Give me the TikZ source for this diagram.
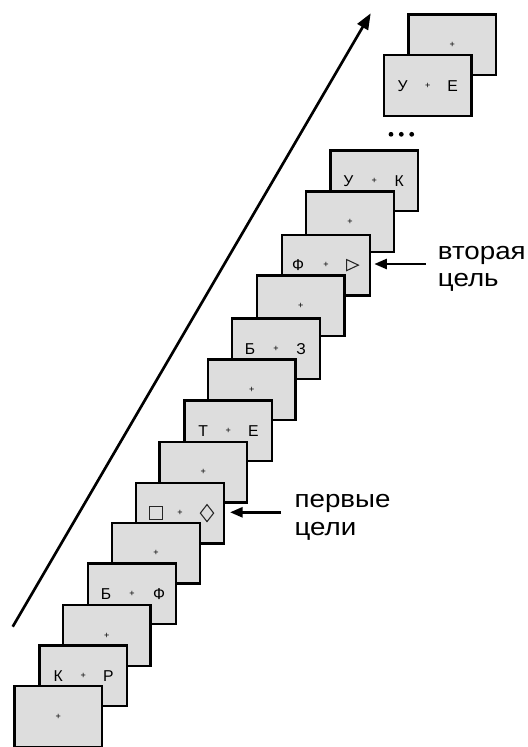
\documentclass[tikz,border=0pt]{standalone}
\usepackage{fontspec}
\setmainfont{Liberation Sans}
\newfontfamily\labfont[FakeStretch=1.13]{Liberation Sans}
\usetikzlibrary{arrows.meta,calc}
\definecolor{scrfill}{RGB}{221,221,221}
\tikzset{
  scr/.style={draw=black, fill=scrfill, line width=1.7pt, minimum width=65.8pt,
    minimum height=45.4pt, inner sep=0pt, outer sep=0pt},
  fix/.style={inner sep=0pt, font=\fontsize{6.8}{7}\selectfont},
  stim/.style={inner sep=0pt, anchor=base, font=\fontsize{11.8}{12}\selectfont},
  lab/.style={inner sep=0pt, anchor=base west, font=\labfont\fontsize{18.4}{21}\selectfont},
  arr/.style={line width=2pt, -{Triangle[length=9.5pt,width=7.5pt]}},
  mainarr/.style={line width=2pt, -{Triangle[length=12pt,width=9pt]}},
  tgt/.style={line width=0.8pt, draw=black!85}
}
\begin{document}
\begin{tikzpicture}[x=0.75pt,y=-0.75pt]
\useasboundingbox (0,0) rectangle (528,747);
\clip (0,0) rectangle (528,747);
% time arrow
\coordinate (a0) at (12.7,626.7);
\coordinate (a1) at (370.7,13.3);
\draw[mainarr] (a0) -- (a1);
% top screens
\node[scr] (u2) at (407.3+45,13.3+31.4) {};
\node[fix] (u2f) at (u2.center) {+};
\node[scr] (u1) at (382.7+45,54+31.4) {};
\node[fix] (u1f) at (u1.center) {+};
\node[stim] (u1a) at ($(u1.center)+(-25,5.8)$) {У};
\node[stim] (u1b) at ($(u1.center)+(25,5.8)$) {Е};
% dots
\fill (391,134.3) circle (1.8pt);
\fill (401.3,134.3) circle (1.8pt);
\fill (411.7,134.3) circle (1.8pt);
% main stack, drawn from top to bottom
\foreach \i/\l/\t in {13/329.3/149.3, 12/305/190.3, 11/281/233.7, 10/255.7/274.3,
  9/231/317.3, 8/206.7/358.3, 7/183.3/399.3, 6/158.3/440.7, 5/135/481.7,
  4/111/521.7, 3/87/562.3, 2/61.7/604, 1/38.3/644.3, 0/13.3/685} {
  \node[scr] (s\i) at (\l+45,\t+31.4) {};
  \node[fix] (f\i) at (s\i.center) {+};
  \ifnum\i=13
    \node[stim] (s\i a) at ($(s\i.center)+(-26,5.8)$) {У};
    \node[stim] (s\i b) at ($(s\i.center)+(25,5.8)$) {К};
  \fi
  \ifnum\i=11
    \node[stim] (s\i a) at ($(s\i.center)+(-28,5.8)$) {Ф};
    \draw[tgt] ($(s\i.center)+(26.5,0)$) ++(-5.8,-5.5) -- ++(11.7,5.5) -- ++(-11.7,5.5) -- cycle;
  \fi
  \ifnum\i=9
    \node[stim] (s\i a) at ($(s\i.center)+(-26,5.8)$) {Б};
    \node[stim] (s\i b) at ($(s\i.center)+(25,5.8)$) {З};
  \fi
  \ifnum\i=7
    \node[stim] (s\i a) at ($(s\i.center)+(-25,5.8)$) {Т};
    \node[stim] (s\i b) at ($(s\i.center)+(25,5.8)$) {Е};
  \fi
  \ifnum\i=5
    \draw[tgt] ($(s\i.center)+(-24.2,0)$) ++(-6.5,-6.25) rectangle ++(13,12.5);
    \draw[tgt] ($(s\i.center)+(27,0)$) ++(0,-8.5) -- ++(6.65,8.5) -- ++(-6.65,8.5) -- ++(-6.65,-8.5) -- cycle;
  \fi
  \ifnum\i=3
    \node[stim] (s\i a) at ($(s\i.center)+(-26,5.8)$) {Б};
    \node[stim] (s\i b) at ($(s\i.center)+(27,5.8)$) {Ф};
  \fi
  \ifnum\i=1
    \node[stim] (s\i a) at ($(s\i.center)+(-25,5.8)$) {К};
    \node[stim] (s\i b) at ($(s\i.center)+(25,5.8)$) {Р};
  \fi
}
% labels
\node[lab] (l1a) at (294.3,507.7) {первые};
\node[lab] (l1b) at (294.3,535.7) {цели};
\node[lab] (l2a) at (437.7,259.3) {вторая};
\node[lab] (l2b) at (437.7,286.7) {цель};
\coordinate (p1) at (281,512.3);
\coordinate (p2) at (425.7,264);
\draw[arr, shorten >=4.6pt] (p1) -- (p1 -| s5.east);
\draw[arr, shorten >=3.3pt] (p2) -- (p2 -| s11.east);
\end{tikzpicture}
\end{document}
